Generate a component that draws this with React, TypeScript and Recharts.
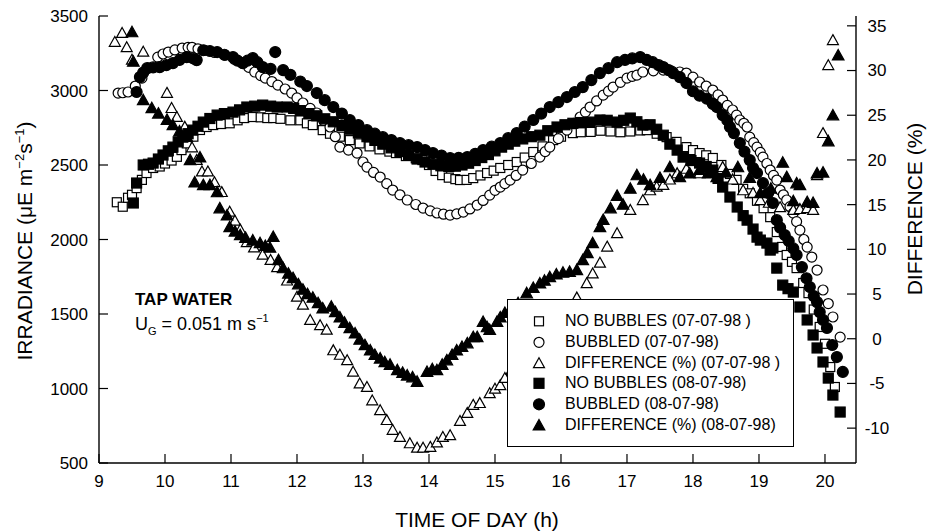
import React from 'react';
import { ScatterChart, Scatter, XAxis, YAxis, Legend, Label } from 'recharts';

const FONT = '"Liberation Sans", Arial, Helvetica, sans-serif';

// [time of day (h), irradiance (uE m-2 s-1)]
const noBubbles0707 = [
  [9.27, 2250], [9.36, 2220], [9.44, 2280], [9.5, 2300], [9.57, 2345], [9.65, 2400], [9.72, 2446], [9.82, 2480],
  [9.92, 2490], [10.0, 2510], [10.1, 2530], [10.18, 2555], [10.25, 2600], [10.33, 2645], [10.43, 2690], [10.53, 2735],
  [10.63, 2755], [10.73, 2768], [10.85, 2775], [10.98, 2780], [11.1, 2800], [11.2, 2815], [11.33, 2822], [11.45, 2820],
  [11.55, 2815], [11.64, 2815], [11.75, 2810], [11.9, 2800], [12.05, 2800], [12.15, 2780], [12.24, 2768], [12.39, 2734],
  [12.5, 2710], [12.65, 2690], [12.8, 2667], [12.95, 2645], [13.1, 2625], [13.25, 2605], [13.4, 2590], [13.5, 2580],
  [13.65, 2560], [13.8, 2545], [13.9, 2533], [14.0, 2500], [14.1, 2460], [14.2, 2432], [14.3, 2415], [14.4, 2405],
  [14.47, 2399], [14.57, 2400], [14.67, 2412], [14.78, 2430], [14.88, 2446], [14.98, 2462], [15.08, 2480], [15.2, 2500],
  [15.33, 2520], [15.45, 2550], [15.58, 2587], [15.72, 2625], [15.88, 2667], [16.0, 2690], [16.18, 2714], [16.3, 2720],
  [16.45, 2722], [16.6, 2730], [16.75, 2725], [16.9, 2720], [17.05, 2725], [17.2, 2732], [17.3, 2734], [17.45, 2710],
  [17.6, 2687], [17.75, 2655], [17.9, 2620], [18.0, 2600], [18.1, 2580], [18.2, 2565], [18.3, 2547], [18.43, 2500],
  [18.56, 2440], [18.66, 2400], [18.76, 2340], [18.86, 2310], [18.97, 2260], [19.07, 2210], [19.17, 2150], [19.27, 2050],
  [19.35, 1950], [19.42, 1896], [19.5, 1850], [19.57, 1808], [19.67, 1708], [19.75, 1640], [19.83, 1530], [19.92, 1413],
  [20.0, 1300], [20.08, 1144], [20.15, 1010],
];

const bubbled0707 = [
  [9.29, 2983], [9.36, 2985], [9.44, 2990], [9.55, 3030], [9.65, 3083], [9.75, 3150], [9.89, 3224], [9.97, 3245],
  [10.05, 3258], [10.15, 3272], [10.26, 3285], [10.35, 3290], [10.41, 3290], [10.5, 3280], [10.6, 3270], [10.75, 3255],
  [10.91, 3237], [11.05, 3210], [11.17, 3184], [11.27, 3155], [11.36, 3124], [11.45, 3100], [11.52, 3083], [11.62, 3060],
  [11.71, 3036], [11.82, 3010], [11.92, 2983], [12.0, 2950], [12.09, 2916], [12.2, 2880], [12.3, 2849], [12.4, 2800],
  [12.5, 2755], [12.58, 2690], [12.65, 2620], [12.78, 2600], [12.91, 2580], [13.0, 2520], [13.06, 2486], [13.16, 2450],
  [13.26, 2419], [13.36, 2375], [13.45, 2332], [13.56, 2300], [13.67, 2265], [13.8, 2235], [13.91, 2211], [14.02, 2192],
  [14.12, 2178], [14.22, 2170], [14.32, 2164], [14.42, 2172], [14.52, 2184], [14.62, 2205], [14.73, 2231], [14.82, 2262],
  [14.92, 2298], [15.0, 2330], [15.08, 2352], [15.15, 2375], [15.23, 2399], [15.32, 2430], [15.42, 2466], [15.55, 2510],
  [15.68, 2553], [15.76, 2590], [15.83, 2620], [15.96, 2677], [16.09, 2734], [16.19, 2780], [16.29, 2822], [16.37, 2855],
  [16.44, 2889], [16.54, 2930], [16.64, 2969], [16.72, 2996], [16.79, 3023], [16.9, 3055], [17.0, 3083], [17.08, 3095],
  [17.15, 3103], [17.24, 3124], [17.4, 3132], [17.55, 3137], [17.68, 3130], [17.8, 3124], [17.9, 3117], [18.0, 3090],
  [18.1, 3057], [18.2, 3030], [18.3, 3003], [18.38, 2970], [18.45, 2936], [18.52, 2900], [18.6, 2869], [18.66, 2835],
  [18.71, 2802], [18.77, 2780], [18.82, 2755], [18.86, 2687], [18.92, 2650], [18.97, 2620], [19.02, 2585], [19.06, 2553],
  [19.12, 2510], [19.17, 2466], [19.22, 2430], [19.27, 2399], [19.32, 2332], [19.37, 2300], [19.42, 2265], [19.47, 2220],
  [19.52, 2177], [19.57, 2120], [19.62, 2063], [19.68, 2000], [19.73, 1949], [19.8, 1882], [19.88, 1795], [19.97, 1661],
  [20.05, 1570], [20.12, 1480], [20.23, 1345],
];

// [time of day (h), difference (%)]
const difference0707 = [
  [9.24, 33.2], [9.35, 34.2], [9.42, 32.6], [9.5, 31.2], [9.67, 32.1], [10.03, 27.5], [10.1, 25.8], [10.18, 24.8],
  [10.3, 23.7], [10.41, 21.4], [10.48, 20.0], [10.56, 18.7], [10.65, 18.7], [10.75, 17.5], [10.86, 16.4], [10.98, 14.2],
  [11.06, 13.2], [11.14, 12.2], [11.24, 10.8], [11.35, 10.2], [11.48, 9.4], [11.6, 8.8], [11.7, 8.0], [11.85, 6.5],
  [12.0, 4.7], [12.09, 3.8], [12.2, 2.1], [12.35, 1.5], [12.45, 1.0], [12.55, -1.3], [12.65, -1.8], [12.76, -2.4],
  [12.85, -3.7], [12.95, -5.0], [13.06, -5.4], [13.14, -6.9], [13.26, -8.0], [13.36, -9.1], [13.45, -10.2], [13.56, -11.0],
  [13.71, -11.7], [13.82, -12.2], [13.91, -12.2], [14.02, -12.1], [14.12, -11.6], [14.21, -11.0], [14.32, -10.8],
  [14.47, -9.2], [14.58, -8.3], [14.67, -7.4], [14.77, -7.2], [14.92, -6.1], [15.0, -5.6], [15.08, -5.2], [15.15, -4.4],
  [15.25, -3.5], [15.4, -2.0], [15.55, -0.8], [15.7, 0.5], [15.85, 1.8], [16.0, 2.8], [16.12, 3.6], [16.24, 4.6],
  [16.39, 6.2], [16.48, 7.3], [16.59, 8.5], [16.7, 10.3], [16.85, 11.8], [17.05, 14.4], [17.24, 15.5], [17.35, 16.6],
  [17.45, 17.0], [17.55, 17.2], [17.65, 17.8], [17.76, 18.5], [17.9, 19.0], [18.1, 18.5], [18.3, 18.7], [18.45, 19.2],
  [18.6, 17.8], [18.76, 16.6], [18.91, 16.3], [19.02, 15.5], [19.15, 15.2], [19.32, 14.7], [19.52, 14.4], [19.62, 14.5],
  [19.73, 14.6], [19.82, 14.4], [19.88, 18.3], [19.97, 23.0], [20.05, 30.6], [20.12, 33.4],
];

const noBubbles0807 = [
  [9.52, 2245], [9.57, 2379], [9.67, 2500], [9.75, 2505], [9.82, 2513], [9.9, 2540], [9.97, 2567], [10.05, 2595],
  [10.12, 2620], [10.2, 2655], [10.27, 2687], [10.35, 2710], [10.42, 2734], [10.5, 2760], [10.58, 2788], [10.68, 2812],
  [10.79, 2835], [10.9, 2845], [11.03, 2855], [11.13, 2870], [11.24, 2889], [11.36, 2895], [11.48, 2902], [11.6, 2895],
  [11.7, 2889], [11.85, 2889], [11.95, 2880], [12.05, 2865], [12.18, 2845], [12.3, 2830], [12.42, 2810], [12.55, 2790],
  [12.68, 2765], [12.8, 2740], [12.93, 2715], [13.06, 2690], [13.18, 2665], [13.3, 2640], [13.43, 2615], [13.56, 2590],
  [13.69, 2565], [13.82, 2540], [13.94, 2520], [14.06, 2505], [14.18, 2495], [14.3, 2490], [14.4, 2492], [14.5, 2500],
  [14.6, 2512], [14.7, 2530], [14.8, 2550], [14.9, 2570], [15.0, 2595], [15.1, 2620], [15.2, 2640], [15.3, 2660],
  [15.42, 2675], [15.55, 2690], [15.68, 2700], [15.8, 2730], [15.94, 2755], [16.06, 2770], [16.18, 2780], [16.3, 2785],
  [16.44, 2788], [16.59, 2802], [16.7, 2800], [16.85, 2788], [16.95, 2800], [17.05, 2815], [17.15, 2790], [17.24, 2768],
  [17.35, 2770], [17.45, 2740], [17.55, 2700], [17.65, 2640], [17.76, 2600], [17.85, 2553], [17.97, 2530], [18.1, 2513],
  [18.2, 2490], [18.3, 2466], [18.38, 2410], [18.45, 2352], [18.56, 2285], [18.67, 2218], [18.76, 2160], [18.82, 2130],
  [18.91, 2070], [18.97, 2016], [19.02, 1996], [19.12, 1976], [19.17, 1929], [19.21, 1943], [19.27, 1808], [19.36, 1694],
  [19.44, 1670], [19.52, 1647], [19.62, 1547], [19.73, 1460], [19.82, 1359], [19.88, 1272], [19.97, 1178], [20.05, 1070],
  [20.12, 956], [20.23, 842],
];

const bubbled0807 = [
  [9.57, 2990], [9.62, 3090], [9.67, 3120], [9.73, 3150], [9.82, 3155], [9.92, 3157], [10.02, 3170], [10.12, 3184],
  [10.22, 3205], [10.33, 3224], [10.43, 3215], [10.48, 3204], [10.58, 3270], [10.68, 3265], [10.79, 3258], [10.9, 3240],
  [11.03, 3224], [11.1, 3200], [11.18, 3184], [11.25, 3200], [11.33, 3217], [11.4, 3190], [11.48, 3157], [11.6, 3145],
  [11.67, 3258], [11.79, 3137], [11.9, 3105], [12.05, 3060], [12.15, 3030], [12.3, 2983], [12.42, 2935], [12.55, 2889],
  [12.68, 2845], [12.8, 2802], [12.93, 2768], [13.06, 2734], [13.18, 2710], [13.3, 2687], [13.43, 2667], [13.56, 2647],
  [13.69, 2633], [13.82, 2620], [13.94, 2600], [14.06, 2580], [14.19, 2563], [14.32, 2547], [14.45, 2548], [14.58, 2553],
  [14.7, 2575], [14.82, 2600], [14.95, 2623], [15.08, 2647], [15.2, 2680], [15.33, 2714], [15.45, 2758], [15.58, 2802],
  [15.7, 2845], [15.83, 2889], [15.96, 2922], [16.09, 2956], [16.21, 2990], [16.33, 3023], [16.46, 3070], [16.59, 3117],
  [16.72, 3150], [16.85, 3190], [16.97, 3205], [17.08, 3215], [17.2, 3224], [17.3, 3205], [17.39, 3190], [17.48, 3170],
  [17.55, 3157], [17.63, 3137], [17.7, 3117], [17.8, 3090], [17.9, 3050], [18.0, 2995], [18.1, 2965], [18.21, 2945],
  [18.3, 2910], [18.36, 2889], [18.45, 2835], [18.52, 2800], [18.56, 2755], [18.62, 2714], [18.71, 2647], [18.78, 2590],
  [18.86, 2533], [18.91, 2480], [18.97, 2446], [19.06, 2379], [19.14, 2312], [19.21, 2245], [19.27, 2130], [19.32, 2080],
  [19.39, 2030], [19.45, 1990], [19.52, 1940], [19.57, 1896], [19.65, 1815], [19.72, 1740], [19.77, 1681], [19.83, 1620],
  [19.88, 1580], [19.92, 1513], [19.97, 1460], [20.03, 1406], [20.11, 1292], [20.18, 1211], [20.27, 1111],
];

const difference0807 = [
  [9.5, 34.3], [9.52, 31.0], [9.67, 26.7], [9.8, 25.8], [9.9, 25.2], [10.03, 24.5], [10.12, 23.9], [10.22, 23.2],
  [10.33, 22.6], [10.38, 20.0], [10.45, 17.5], [10.53, 20.3], [10.58, 17.2], [10.68, 17.2], [10.79, 16.4], [10.83, 14.6],
  [10.94, 13.8], [10.98, 12.5], [11.06, 12.0], [11.14, 11.6], [11.22, 11.3], [11.33, 11.0], [11.44, 10.7], [11.52, 10.4],
  [11.59, 10.2], [11.64, 11.4], [11.72, 8.8], [11.79, 7.9], [11.87, 7.3], [11.94, 6.8], [12.02, 6.1], [12.09, 5.5],
  [12.16, 5.0], [12.24, 4.6], [12.32, 4.0], [12.39, 3.4], [12.52, 3.6], [12.58, 3.0], [12.65, 2.4], [12.72, 1.8],
  [12.8, 1.2], [12.88, 0.6], [12.95, -0.1], [13.03, -0.7], [13.11, -1.3], [13.18, -1.8], [13.26, -2.2], [13.33, -2.6],
  [13.41, -2.9], [13.52, -3.5], [13.6, -3.8], [13.67, -4.1], [13.75, -4.3], [13.82, -4.8], [13.97, -3.7], [14.05, -3.4],
  [14.12, -3.5], [14.2, -2.9], [14.27, -2.4], [14.35, -1.8], [14.42, -1.3], [14.5, -0.9], [14.58, -0.5], [14.67, 0.2],
  [14.73, 0.2], [14.82, 1.9], [14.88, 1.3], [14.92, 1.0], [15.03, 1.9], [15.08, 2.4], [15.15, 2.9], [15.23, 2.9],
  [15.35, 4.0], [15.48, 5.1], [15.58, 5.7], [15.68, 6.2], [15.75, 6.5], [15.83, 6.9], [15.93, 7.2], [16.03, 7.4],
  [16.13, 7.5], [16.24, 7.7], [16.33, 8.8], [16.4, 9.6], [16.48, 10.7], [16.59, 12.5], [16.64, 13.3], [16.75, 14.6],
  [16.85, 16.0], [16.94, 15.0], [17.05, 16.8], [17.15, 18.3], [17.25, 17.8], [17.35, 17.2], [17.5, 18.0], [17.65, 19.2],
  [17.8, 18.1], [17.95, 18.5], [18.1, 18.9], [18.23, 18.5], [18.36, 18.1], [18.5, 18.6], [18.68, 19.2], [18.86, 18.0],
  [19.02, 16.3], [19.18, 16.8], [19.36, 19.7], [19.42, 18.1], [19.52, 15.4], [19.57, 17.4], [19.62, 17.2], [19.73, 15.3],
  [19.82, 15.2], [19.88, 18.5], [19.97, 18.6], [20.05, 22.1], [20.12, 25.0], [20.2, 31.7],
];

const legendLabels = [
  'NO BUBBLES (07-07-98 )',
  'BUBBLED (07-07-98)',
  'DIFFERENCE (%) (07-07-98 )',
  'NO BUBBLES (08-07-98)',
  'BUBBLED (08-07-98)',
  'DIFFERENCE (%) (08-07-98)',
];

const xTicks = [9, 10, 11, 12, 13, 14, 15, 16, 17, 18, 19, 20];
const leftTicks = [500, 1000, 1500, 2000, 2500, 3000, 3500];
const rightTicks = [-10, -5, 0, 5, 10, 15, 20, 25, 30, 35];

const toPoints = (rows) => rows.map(([t, v]) => ({ t, v }));

const series = [
  { name: legendLabels[0], data: toPoints(noBubbles0707), kind: 'square', filled: false, axis: 'left' },
  { name: legendLabels[1], data: toPoints(bubbled0707), kind: 'circle', filled: false, axis: 'left' },
  { name: legendLabels[2], data: toPoints(difference0707), kind: 'triangle', filled: false, axis: 'right' },
  { name: legendLabels[3], data: toPoints(noBubbles0807), kind: 'square', filled: true, axis: 'left' },
  { name: legendLabels[4], data: toPoints(bubbled0807), kind: 'circle', filled: true, axis: 'left' },
  { name: legendLabels[5], data: toPoints(difference0807), kind: 'triangle', filled: true, axis: 'right' },
];

const Marker = ({ cx, cy, kind, filled }) => {
  const fill = filled ? '#000' : '#fff';
  const sw = 1.2;
  if (kind === 'square') {
    const s = filled ? 10 : 9;
    return <rect x={cx - s / 2} y={cy - s / 2} width={s} height={s} fill={fill} stroke="#000" strokeWidth={sw} />;
  }
  if (kind === 'circle') {
    return <circle cx={cx} cy={cy} r={filled ? 5.5 : 5} fill={fill} stroke="#000" strokeWidth={sw} />;
  }
  const h = filled ? 5.8 : 5.5;
  return (
    <path
      d={`M${cx},${cy - h} L${cx + h},${cy + h * 0.8} L${cx - h},${cy + h * 0.8} Z`}
      fill={fill}
      stroke="#000"
      strokeWidth={sw}
      strokeLinejoin="miter"
    />
  );
};

const LegendBox = () => (
  <div
    style={{
      boxSizing: 'border-box',
      width: 287,
      height: 148,
      border: '1px solid #000',
      background: '#fff',
      paddingTop: 10.6,
      fontFamily: FONT,
      fontSize: 16,
      color: '#000',
    }}
  >
    {series.map((s) => (
      <div key={s.name} style={{ display: 'flex', alignItems: 'center', height: 20.8, whiteSpace: 'nowrap' }}>
        <svg width={14} height={14} style={{ marginLeft: 24, display: 'block' }}>
          <Marker cx={7} cy={7.3} kind={s.kind} filled={s.filled} />
        </svg>
        <span style={{ marginLeft: 19 }}>{s.name}</span>
      </div>
    ))}
  </div>
);

const LeftTitle = () => (
  <g>
    <text transform="translate(32,241) rotate(-90)" textAnchor="middle" fontFamily={FONT} fontSize={21} fill="#000">
      IRRADIANCE (μE m<tspan dy={-8} fontSize={13}>−2</tspan>
      <tspan dy={8}>s</tspan>
      <tspan dy={-8} fontSize={13}>−1</tspan>
      <tspan dy={8}>)</tspan>
    </text>
    <text x={135} y={305} fontFamily={FONT} fontSize={17} fontWeight="bold" fill="#000">
      TAP WATER
    </text>
    <text x={135} y={330} fontFamily={FONT} fontSize={18} fill="#000">
      U<tspan dy={5} fontSize={11}>G</tspan>
      <tspan dy={-5}> = 0.051 m s</tspan>
      <tspan dy={-8} fontSize={11}>−1</tspan>
    </text>
  </g>
);

const RightTitle = () => (
  <text transform="translate(922,209) rotate(-90)" textAnchor="middle" fontFamily={FONT} fontSize={21} fill="#000">
    DIFFERENCE (%)
  </text>
);

const BottomTitle = () => (
  <text x={477} y={527} textAnchor="middle" fontFamily={FONT} fontSize={21} fill="#000">
    TIME OF DAY (h)
  </text>
);

const RightTick = ({ x, y, payload }) => (
  <text x={x} y={y} dy="0.35em" textAnchor="middle" fontFamily={FONT} fontSize={17} fill="#000">
    {payload.value}
  </text>
);

const tickStyle = { fill: '#000', fontSize: 17, fontFamily: FONT };
const axisLine = { stroke: '#000', strokeWidth: 1.4 };
const tickLine = { stroke: '#000', strokeWidth: 1.2 };

export default function App() {
  return (
    <div style={{ position: 'absolute', left: 0, top: 0, background: '#fff' }}>
      <ScatterChart width={929} height={532} margin={{ top: 16, right: 0, bottom: 0, left: 0 }}>
        <XAxis
          type="number"
          dataKey="t"
          domain={[9, 20.47]}
          ticks={xTicks}
          allowDataOverflow
          height={69}
          tick={tickStyle}
          tickSize={-9}
          tickMargin={21}
          axisLine={axisLine}
          tickLine={tickLine}
        >
          <Label content={<BottomTitle />} />
        </XAxis>
        <XAxis
          xAxisId="top"
          orientation="top"
          type="number"
          domain={[9, 20.47]}
          height={0}
          tick={false}
          tickLine={false}
          axisLine={axisLine}
        />
        <YAxis
          yAxisId="left"
          type="number"
          dataKey="v"
          domain={[500, 3500]}
          ticks={leftTicks}
          allowDataOverflow
          width={99}
          tick={tickStyle}
          tickSize={-9}
          tickMargin={20}
          axisLine={axisLine}
          tickLine={tickLine}
        >
          <Label content={<LeftTitle />} />
        </YAxis>
        <YAxis
          yAxisId="right"
          orientation="right"
          type="number"
          dataKey="v"
          domain={[-13.9, 36.1]}
          ticks={rightTicks}
          allowDataOverflow
          width={73}
          tick={<RightTick />}
          tickSize={-9}
          tickMargin={30}
          axisLine={axisLine}
          tickLine={tickLine}
        >
          <Label content={<RightTitle />} />
        </YAxis>
        {series.map((s) => (
          <Scatter
            key={s.name}
            name={s.name}
            data={s.data}
            yAxisId={s.axis}
            isAnimationActive={false}
            shape={(p) => <Marker cx={p.cx} cy={p.cy} kind={s.kind} filled={s.filled} />}
          />
        ))}
        <Legend
          layout="vertical"
          align="center"
          verticalAlign="middle"
          wrapperStyle={{ left: 507, top: 299, width: 287, height: 148 }}
          content={<LegendBox />}
        />
      </ScatterChart>
    </div>
  );
}
